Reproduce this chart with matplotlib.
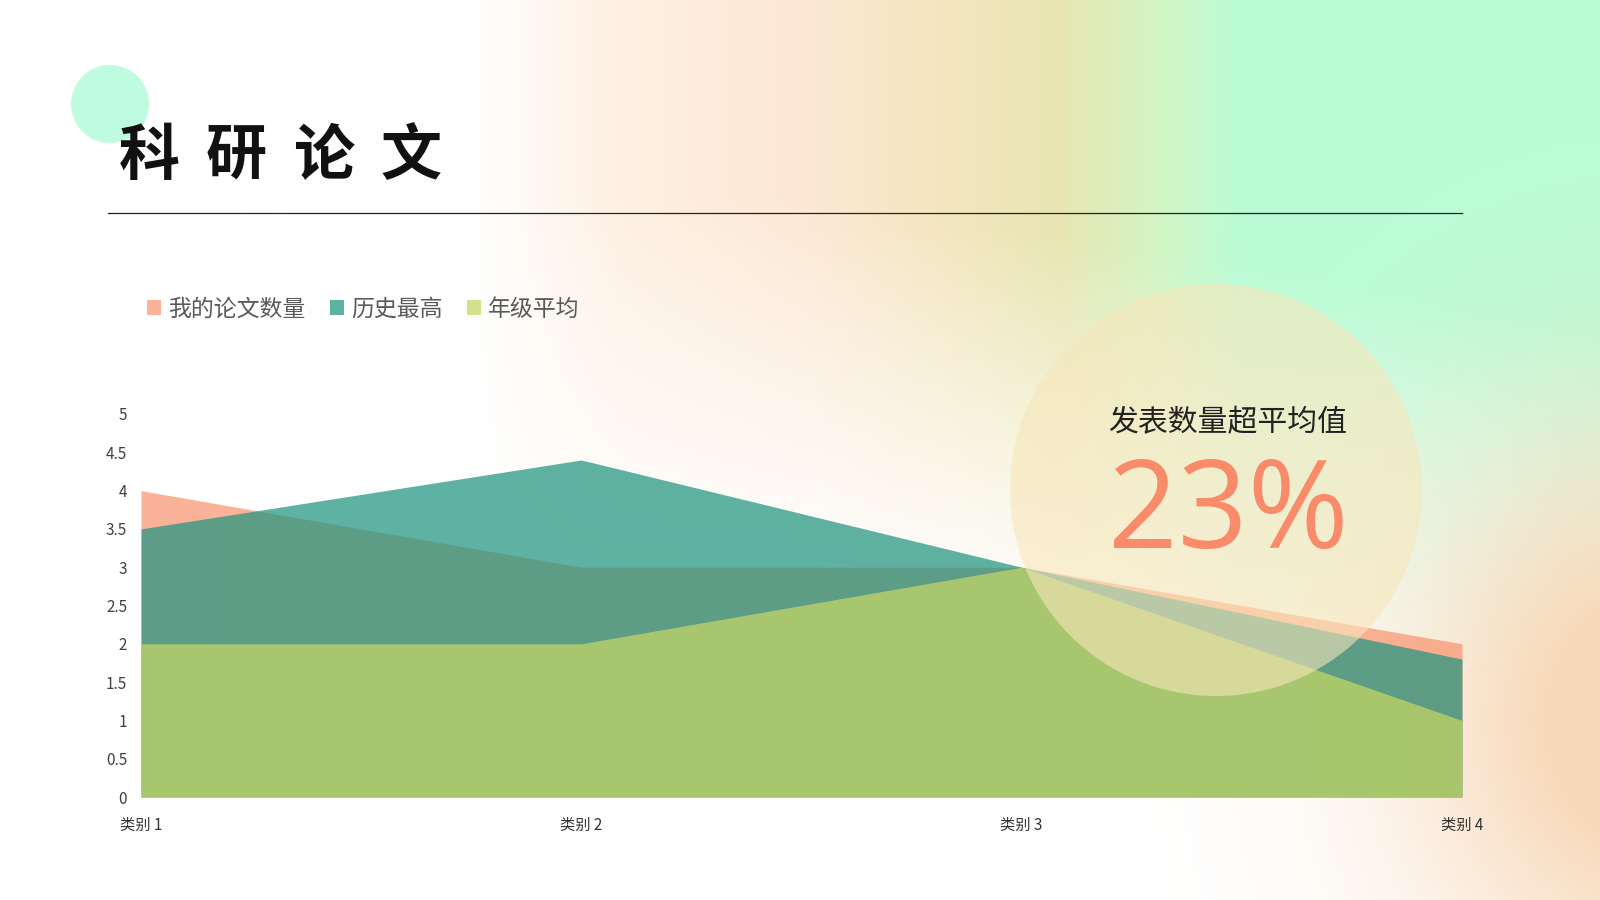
import numpy as np
import matplotlib
matplotlib.use("Agg")
import matplotlib.pyplot as plt
from matplotlib.patches import Circle

plt.rcParams['font.family'] = ['Noto Sans CJK SC', 'DejaVu Sans']

# data
categories = ['类别 1', '类别 2', '类别 3', '类别 4']
my_papers = [4, 3, 3, 2]          # 我的论文数量
hist_best = [3.5, 4.4, 3, 1.8]    # 历史最高
grade_avg = [2, 2, 3, 1]          # 年级平均
series_names = ['我的论文数量', '历史最高', '年级平均']
yticks = [0, 0.5, 1, 1.5, 2, 2.5, 3, 3.5, 4, 4.5, 5]
ytick_labels = ['0', '0.5', '1', '1.5', '2', '2.5', '3', '3.5', '4', '4.5', '5']
title_chars = ['科', '研', '论', '文']
note_text = '发表数量超平均值'
note_value = '23%'

W, H = 1600, 900
fig = plt.figure(figsize=(16, 9), dpi=100)

# ---- background gradient: colour ramp along x, fading out downwards ----
yy, xx = np.mgrid[0:H, 0:W].astype(float)
stops_x = [0, 470, 620, 800, 950, 1060, 1160, 1240, 1600]
stops_c = [(255, 255, 255), (255, 255, 255), (254, 240, 226), (252, 232, 212),
           (243, 230, 190), (232, 230, 178), (210, 245, 196), (186, 252, 214), (186, 252, 214)]
stops_c = np.array(stops_c) / 255.0
ramp = np.stack([np.interp(xx, stops_x, stops_c[:, k]) for k in range(3)], axis=-1)
y0 = 200 + np.clip(0.15 * (xx - 800), 0, None)
mask = np.clip(1 - (yy - y0) / 400, 0, 1) ** 1.1

img = np.ones((H, W, 3))
img = img * (1 - mask[..., None]) + ramp * mask[..., None]


def blob(cx, cy, sx, sy, gain):
    a = gain * np.exp(-0.5 * (((xx - cx) / sx) ** 2 + ((yy - cy) / sy) ** 2))
    return np.clip(a, 0, 1)


a = blob(1650, 720, 170, 200, 1.2)
img = img * (1 - a[..., None]) + np.array([248, 218, 186]) / 255.0 * a[..., None]

bg = fig.add_axes([0, 0, 1, 1], zorder=0)
bg.imshow(img, extent=[0, W, H, 0], aspect='auto', interpolation='bilinear')
bg.set_xlim(0, W)
bg.set_ylim(H, 0)
bg.axis('off')

bg.add_patch(Circle((110, 104), 39, color='#BFFBDF', lw=0))
for i, ch in enumerate(title_chars):
    bg.text(149 + i * 87.5, 157, ch, fontsize=44, fontweight='bold', color='#111111',
            ha='center', va='center')
bg.plot([108, 1462], [213, 213], color='#222222', lw=0.9)

# ---- chart ----
ax = fig.add_axes([141 / W, 1 - 797 / H, (1462 - 141) / W, (797 - 414) / H], zorder=2)
ax.patch.set_alpha(0)
x = np.arange(len(categories))
f1 = ax.fill_between(x, 0, my_papers, color=(249 / 255, 150 / 255, 115 / 255), alpha=0.73, lw=0,
                     label=series_names[0])
f2 = ax.fill_between(x, 0, hist_best, color=(33 / 255, 149 / 255, 128 / 255), alpha=0.72, lw=0,
                     label=series_names[1])
f3 = ax.fill_between(x, 0, grade_avg, color=(197 / 255, 214 / 255, 100 / 255), alpha=0.73, lw=0,
                     label=series_names[2])
ax.set_xlim(0, len(categories) - 1)
ax.set_ylim(0, 5)
ax.set_xticks(x)
ax.set_xticklabels(categories, fontsize=11, color='#333333')
ax.set_yticks(yticks)
ax.set_yticklabels(ytick_labels, fontsize=11, color='#404040')
ax.tick_params(axis='both', length=0)
ax.tick_params(axis='x', pad=14)
ax.tick_params(axis='y', pad=10)
for s in ax.spines.values():
    s.set_visible(False)

fig.legend(handles=[f1, f2, f3], loc='center left', bbox_to_anchor=(147 / W, 1 - 309 / H),
           ncol=3, frameon=False, fontsize=16.5, handlelength=0.6, handleheight=0.6,
           handletextpad=0.3, columnspacing=1.1, borderpad=0, borderaxespad=0,
           labelcolor='#595959')

# ---- overlay circle with note ----
ov = fig.add_axes([0, 0, 1, 1], zorder=3)
ov.patch.set_alpha(0)
ov.set_xlim(0, W)
ov.set_ylim(H, 0)
ov.axis('off')
ov.add_patch(Circle((1216, 490), 206, color=(248 / 255, 230 / 255, 186 / 255), alpha=0.6, lw=0))
ov.text(1228, 423, note_text, fontsize=21.5, color='#222222', ha='center', va='center')
ov.text(1228, 516, note_value, fontsize=88, color='#F98B6A', ha='center', va='center',
        family=['Open Sans', 'DejaVu Sans'])

fig.savefig('out.png', dpi=100)
